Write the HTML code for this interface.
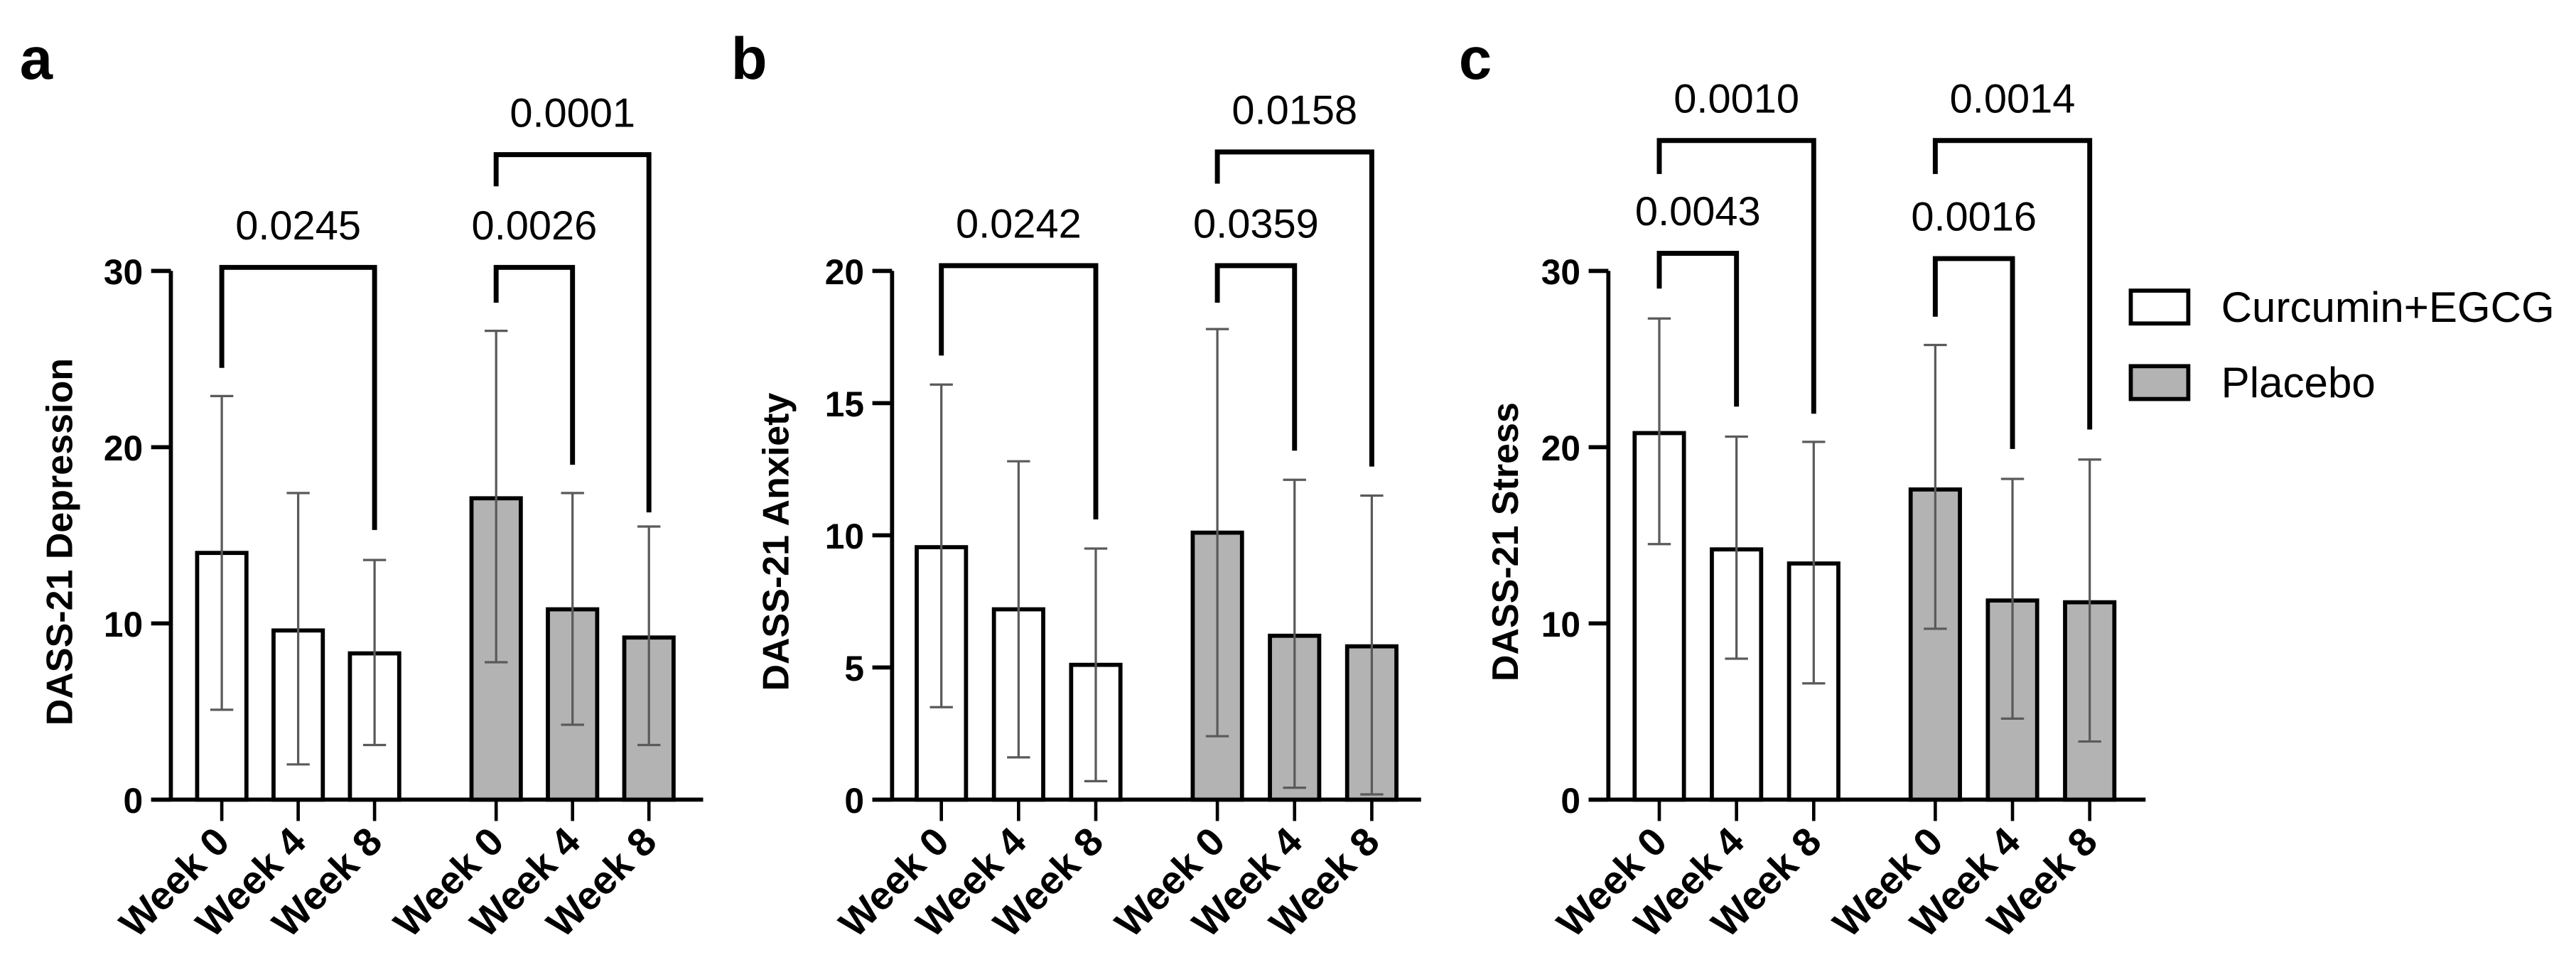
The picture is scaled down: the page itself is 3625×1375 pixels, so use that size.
<!DOCTYPE html>
<html><head><meta charset="utf-8"><style>
html,body{margin:0;padding:0;background:#fff;}
svg{display:block;}
text{font-family:"Liberation Sans",Arial,sans-serif;}
</style></head><body>
<svg id="fig" width="3625" height="1375" viewBox="0 0 1568 595" preserveAspectRatio="none" xmlns="http://www.w3.org/2000/svg">
<rect x="0" y="0" width="1568" height="595" fill="#fff"/>
</svg>
<script>
// ---- data ----
const categories = ["Week 0","Week 4","Week 8"];
const groups = ["Curcumin+EGCG","Placebo"];
const depCur = [14.0, 9.6, 8.3];
const depPla = [17.1, 10.8, 9.2];
const depCurLo = [5.1, 2.0, 3.1];
const depCurHi = [22.9, 17.4, 13.6];
const depPlaLo = [7.8, 4.25, 3.1];
const depPlaHi = [26.6, 17.4, 15.5];
const depTicks = [0, 10, 20, 30];
const depBrackets = [[0,2,30.2,24.5,15.3,"0.0245"],[3,4,30.2,28.2,19.0,"0.0026"],[3,5,36.6,34.8,16.3,"0.0001"]];

const anxCur = [9.55, 7.2, 5.1];
const anxPla = [10.1, 6.2, 5.8];
const anxCurLo = [3.5, 1.6, 0.7];
const anxCurHi = [15.7, 12.8, 9.5];
const anxPlaLo = [2.4, 0.45, 0.2];
const anxPlaHi = [17.8, 12.1, 11.5];
const anxTicks = [0, 5, 10, 15, 20];
const anxBrackets = [[0,2,20.2,16.8,10.6,"0.0242"],[3,4,20.2,18.8,13.2,"0.0359"],[3,5,24.5,23.3,12.6,"0.0158"]];

const strCur = [20.8, 14.2, 13.4];
const strPla = [17.6, 11.3, 11.2];
const strCurLo = [14.5, 8.0, 6.6];
const strCurHi = [27.3, 20.6, 20.3];
const strPlaLo = [9.7, 4.6, 3.3];
const strPlaHi = [25.8, 18.2, 19.3];
const strTicks = [0, 10, 20, 30];
const strBrackets = [[0,1,31.0,29.0,22.3,"0.0043"],[0,2,37.4,35.5,21.9,"0.0010"],[3,4,30.7,27.4,19.9,"0.0016"],[3,5,37.4,35.5,21.0,"0.0014"]];

const NS = "http://www.w3.org/2000/svg";
const svg = document.getElementById("fig");
function el(tag, attrs, parent, txt){
  const e = document.createElementNS(NS, tag);
  for (const k in attrs) e.setAttribute(k, attrs[k]);
  if (txt !== undefined) e.textContent = txt;
  (parent||svg).appendChild(e);
  return e;
}

function panel(cfg){
  const g = el("g", {});
  
  
  const y0 = 487, yTop = 165;
  const ymax = cfg.ticks[cfg.ticks.length-1];
  const Y = v => y0 - (v/ymax)*(y0-yTop);
  const step = (cfg.centers[2]-cfg.centers[0])/2;
  const gap = cfg.centers[3]-cfg.centers[2];
  const X = i => i<3 ? cfg.centers[0]+i*step : cfg.centers[0]+2*step+gap+(i-3)*step;
  const bw = 30;
  const L = el("text",{x:cfg.letterX,y:48,"font-size":36,"font-weight":"bold",fill:"#000"},g,cfg.letter);
  
  
  const yt = el("text",{x:0,y:0,"font-size":22.5,"font-weight":"bold","text-anchor":"middle",transform:`translate(${cfg.axisX-cfg.titleOff},330) rotate(-90)`},g,cfg.title);
  
  
  const means = cfg.cur.concat(cfg.pla), lo = cfg.curLo.concat(cfg.plaLo), hi = cfg.curHi.concat(cfg.plaHi);
  for (let i=0;i<6;i++){
    const cx = X(i);
    const r = el("rect",{x:cx-bw/2,y:Y(means[i]),width:bw,height:y0-Y(means[i]),fill:i<3?"#fff":"#b3b3b3",stroke:"#000","stroke-width":2.5},g);
    
    
    const eb = el("path",{d:`M${cx},${Y(lo[i])}V${Y(hi[i])}M${cx-7},${Y(lo[i])}h14M${cx-7},${Y(hi[i])}h14`,stroke:"#5a5a5a","stroke-width":1.4,fill:"none"},g);
    
    
    el("line",{x1:cx,y1:y0,x2:cx,y2:500,stroke:"#000","stroke-width":2},g);
    const xl = el("text",{x:0,y:0,"font-size":24,"font-weight":"bold","text-anchor":"end",transform:`translate(${cx+6},514) rotate(-45)`},g,categories[i%3]);
    
    
  }
  const ax = el("path",{d:`M${cfg.axisX},${yTop}V${y0}M${cfg.axisX-12},${y0}H${cfg.axisEnd}`,stroke:"#000","stroke-width":2.5,fill:"none"},g);
  
  
  cfg.ticks.forEach(t=>{
    el("line",{x1:cfg.axisX-12,y1:Y(t),x2:cfg.axisX,y2:Y(t),stroke:"#000","stroke-width":2.5},g);
    const tl = el("text",{x:cfg.axisX-17,y:Y(t)+8,"font-size":21.5,"font-weight":"bold","text-anchor":"end"},g,String(t));
    
    
  });
  cfg.brackets.forEach(b=>{
    const x1 = X(b[0]), x2 = X(b[1]);
    const p = el("path",{d:`M${x1},${Y(b[3])}V${Y(b[2])}H${x2}V${Y(b[4])}`,stroke:"#000","stroke-width":3,fill:"none"},g);
    
    
    const t = el("text",{x:(x1+x2)/2,y:Y(b[2])-17,"font-size":25,"text-anchor":"middle"},g,b[5]);
    
    
  });
}

panel({name:"panel-a-depression",letter:"a",letterX:12,title:"DASS-21 Depression",titleOff:60,axisX:104,axisEnd:428,
  centers:[135,182,228,302],ticks:depTicks,cur:depCur,pla:depPla,curLo:depCurLo,curHi:depCurHi,plaLo:depPlaLo,plaHi:depPlaHi,brackets:depBrackets});
panel({name:"panel-b-anxiety",letter:"b",letterX:445,title:"DASS-21 Anxiety",titleOff:63,axisX:543,axisEnd:865,
  centers:[573,620,667,741],ticks:anxTicks,cur:anxCur,pla:anxPla,curLo:anxCurLo,curHi:anxCurHi,plaLo:anxPlaLo,plaHi:anxPlaHi,brackets:anxBrackets});
panel({name:"panel-c-stress",letter:"c",letterX:888,title:"DASS-21 Stress",titleOff:55,axisX:979,axisEnd:1306,
  centers:[1010,1057,1104,1178],ticks:strTicks,cur:strCur,pla:strPla,curLo:strCurLo,curHi:strCurHi,plaLo:strPlaLo,plaHi:strPlaHi,brackets:strBrackets});

const lg = el("g",{});


groups.forEach((name,i)=>{
  const y = 177 + i*46;
  const r = el("rect",{x:1297,y:y,width:35,height:20,fill:i?"#b3b3b3":"#fff",stroke:"#000","stroke-width":2.5},lg);
  
  
  const t = el("text",{x:1352,y:y+19,"font-size":26},lg,name);
  
  
});
</script>
</body></html>
